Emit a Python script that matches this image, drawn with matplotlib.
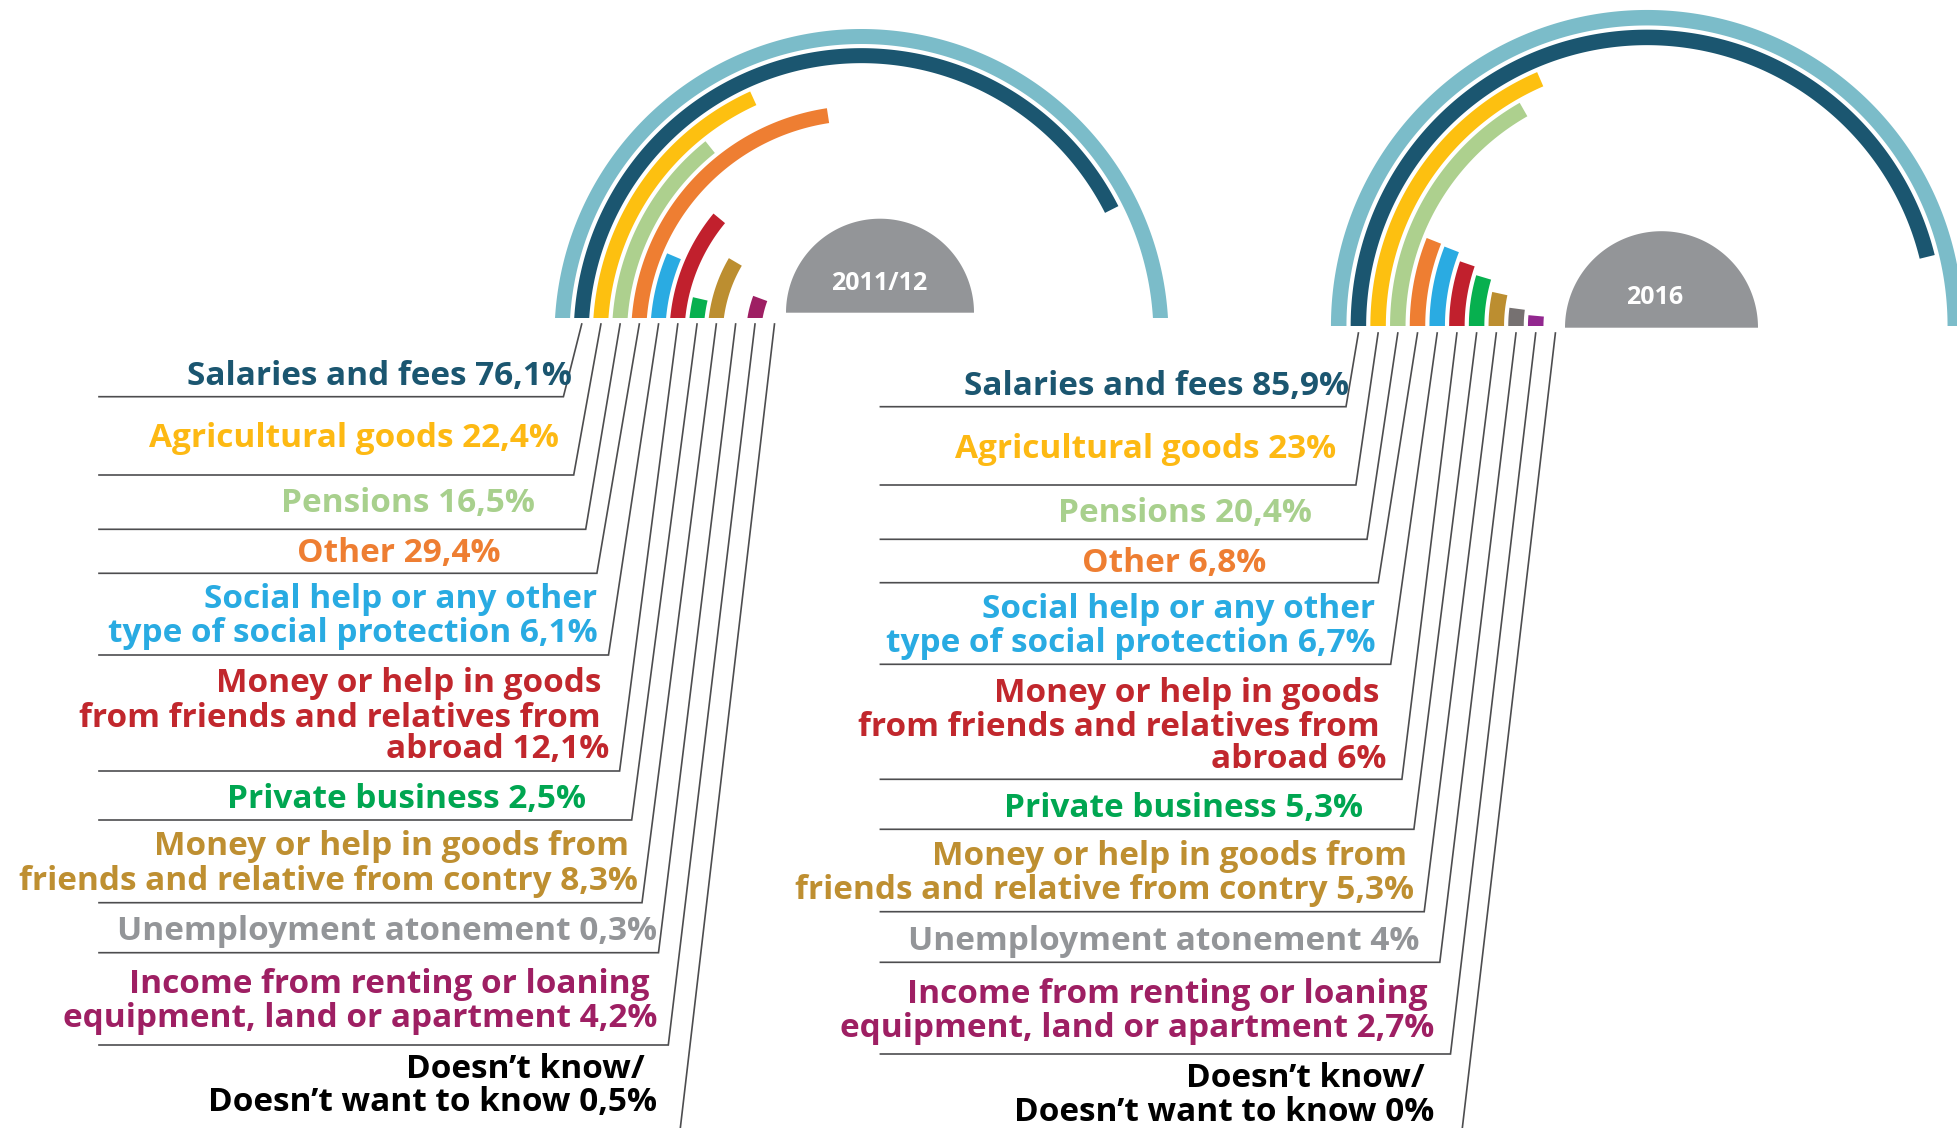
import numpy as np
import matplotlib
matplotlib.use("Agg")
import matplotlib.pyplot as plt
from matplotlib.patches import Polygon, Rectangle

# ---------------- data ----------------
categories = [
    "Salaries and fees", "Agricultural goods", "Pensions", "Other",
    "Social help or any other type of social protection",
    "Money or help in goods from friends and relatives from abroad",
    "Private business",
    "Money or help in goods from friends and relative from contry",
    "Unemployment atonement",
    "Income from renting or loaning equipment, land or apartment",
    "Doesn\u2019t know/Doesn\u2019t want to know",
]
label_lines = [
    ["Salaries and fees {}"],
    ["Agricultural goods {}"],
    ["Pensions {}"],
    ["Other {}"],
    ["Social help or any other", "type of social protection {}"],
    ["Money or help in goods", "from friends and relatives from", "abroad {}"],
    ["Private business {}"],
    ["Money or help in goods from", "friends and relative from contry {}"],
    ["Unemployment atonement {}"],
    ["Income from renting or loaning", "equipment, land or apartment {}"],
    ["Doesn\u2019t know/", "Doesn\u2019t want to know {}"],
]
years = ["2011/12", "2016"]
values_2011 = [76.1, 22.4, 16.5, 29.4, 6.1, 12.1, 2.5, 8.3, 0.3, 4.2, 0.5]
values_2016 = [85.9, 23, 20.4, 6.8, 6.7, 6.0, 5.3, 5.3, 4.0, 2.7, 0]
# extent of each arc as drawn in the source, in % of the half circle
arc_2011 = [85.1, 36.4, 28.5, 45.2, 12.8, 22.0, 7.2, 16.9, 0.0, 11.3, 0.0]
arc_2016 = [92.3, 37.0, 33.5, 12.1, 11.9, 10.6, 9.2, 6.9, 4.2, 2.9, 0.0]
total_arc = 100.0

# ---------------- styles ----------------
track_color = "#7BBCC9"
band_colors = ["#1B5670", "#FDC010", "#ADD08E", "#EE7E32", "#2AABE2", "#C1202D",
               "#07B04F", "#BC8E30", "#767171", "#9E1F63", "#000000"]
band_colors_2016 = band_colors[:9] + ["#92278F", "#000000"]
text_colors = ["#1B5670", "#FDB913", "#A8D08D", "#EE7E32", "#29ABE2", "#C1272D",
               "#00A651", "#BE8F31", "#939598", "#9E1F63", "#000000"]
line_color = "#4D4D4F"
dome_color = "#939598"
FONT = ["Open Sans", "DejaVu Sans"]

# ---------------- layout (pixels) ----------------
panels = [
    dict(values=values_2011, arcs=arc_2011, colors=band_colors, year=years[0],
         cx=861.5, cy=336.0, base=318.0, r0=299.5, pitch=19.15, w=15.0,
         dome=(880.0, 312.7, 94.0), year_xy=(879.0, 283.0),
         lead_top=324.0, under_left=99.0,
         under=[(563.4, 396.7), (573.7, 475), (585.7, 529.3), (596.9, 573.3),
                (608.5, 655), (619.6, 771), (631.7, 820), (642, 902.7),
                (658.5, 952.7), (668.3, 1045), (679.5, 1135)],
         text=[[(572.3, 385)], [(559, 447.3)], [(534.8, 511.7)], [(500.9, 561.7)],
               [(597.3, 608.3), (597.3, 641.7)],
               [(601.8, 691.7), (600.4, 726.7), (609.4, 758.3)],
               [(585.7, 808.3)], [(629.5, 855), (637.5, 890)], [(657, 940)],
               [(649.5, 993.3), (657, 1026.7)], [(645, 1078.3), (657, 1110.7)]]),
    dict(values=values_2016, arcs=arc_2016, colors=band_colors_2016, year=years[1],
         cx=1647.0, cy=326.0, base=326.0, r0=308.3, pitch=19.7, w=15.5,
         dome=(1661.5, 327.7, 96.5), year_xy=(1655.0, 298.0),
         lead_top=333.0, under_left=880.4,
         under=[(1346, 406.7), (1355.9, 485), (1367, 539.3), (1378.2, 582.7),
                (1390.7, 664.3), (1401.9, 779.3), (1413.9, 829.3), (1424.2, 911.7),
                (1439.8, 962.3), (1450.5, 1054), (1461.5, 1135)],
         text=[[(1349.2, 395)], [(1335.8, 457.7)], [(1312.1, 522.3)], [(1266.6, 571.7)],
               [(1375, 618.3), (1375, 651.7)],
               [(1379.6, 701.7), (1379.6, 735.7), (1386.3, 768.3)],
               [(1362.6, 816.7)], [(1407.2, 865), (1413.9, 899.3)], [(1419.3, 950)],
               [(1427.3, 1003.3), (1434, 1036.7)], [(1425, 1086.7), (1434, 1120.7)]]),
]

W, H = 1957, 1128
fig = plt.figure(figsize=(W / 100, H / 100), dpi=100, facecolor="white")
ax = fig.add_axes([0, 0, 1, 1])
ax.set_xlim(0, W)
ax.set_ylim(H, 0)
ax.axis("off")


def band(cx, cy, r, w, share, color, clip_y):
    t1 = 180.0 - share * 180.0 / 100.0
    t = np.radians(np.linspace(185.0, t1, 300))
    ro, ri = r + w / 2, r - w / 2
    xs = np.r_[cx + ro * np.cos(t), cx + ri * np.cos(t[::-1])]
    ys = np.r_[cy - ro * np.sin(t), cy - ri * np.sin(t[::-1])]
    p = Polygon(np.c_[xs, ys], closed=True, facecolor=color, edgecolor="none")
    ax.add_patch(p)
    p.set_clip_path(Rectangle((0, 0), W, clip_y, transform=ax.transData))


def fmt(v):
    return "{:g}%".format(v).replace(".", ",")


for P in panels:
    cx, cy, base = P["cx"], P["cy"], P["base"]
    cut = cy - base
    # track (total)
    band(cx, cy, P["r0"], P["w"], total_arc, track_color, base)
    radii = []
    for i, share in enumerate(P["arcs"]):
        r = P["r0"] - P["pitch"] * (i + 1)
        radii.append(r)
        if share > 0:
            band(cx, cy, r, P["w"], share, P["colors"][i], base)
    # dome with year
    dx, dy, dr = P["dome"]
    t = np.radians(np.linspace(0, 180, 200))
    ax.add_patch(Polygon(np.c_[dx + dr * np.cos(t), dy - dr * np.sin(t)],
                         closed=True, facecolor=dome_color, edgecolor="none"))
    ax.text(*P["year_xy"], P["year"], ha="center", va="center", color="white",
            fontsize=18, fontweight="bold", family=FONT)
    # leader lines
    for i, r in enumerate(radii):
        xt = cx - np.sqrt(r ** 2 - cut ** 2)
        xb, yb = P["under"][i]
        if i < len(radii) - 1:
            ax.plot([xt, xb, P["under_left"]], [P["lead_top"], yb, yb],
                    color=line_color, lw=1.2, solid_joinstyle="miter")
        else:
            ax.plot([xt, xb], [P["lead_top"], yb], color=line_color, lw=1.2)
    # labels
    for i, lines in enumerate(label_lines):
        val = fmt(P["values"][i])
        for j, line in enumerate(lines):
            x, y = P["text"][i][j]
            ax.text(x, y, line.format(val), ha="right", va="baseline",
                    color=text_colors[i], fontsize=24, fontweight="bold",
                    family=FONT)

fig.savefig("out.png", dpi=100, facecolor="white")
